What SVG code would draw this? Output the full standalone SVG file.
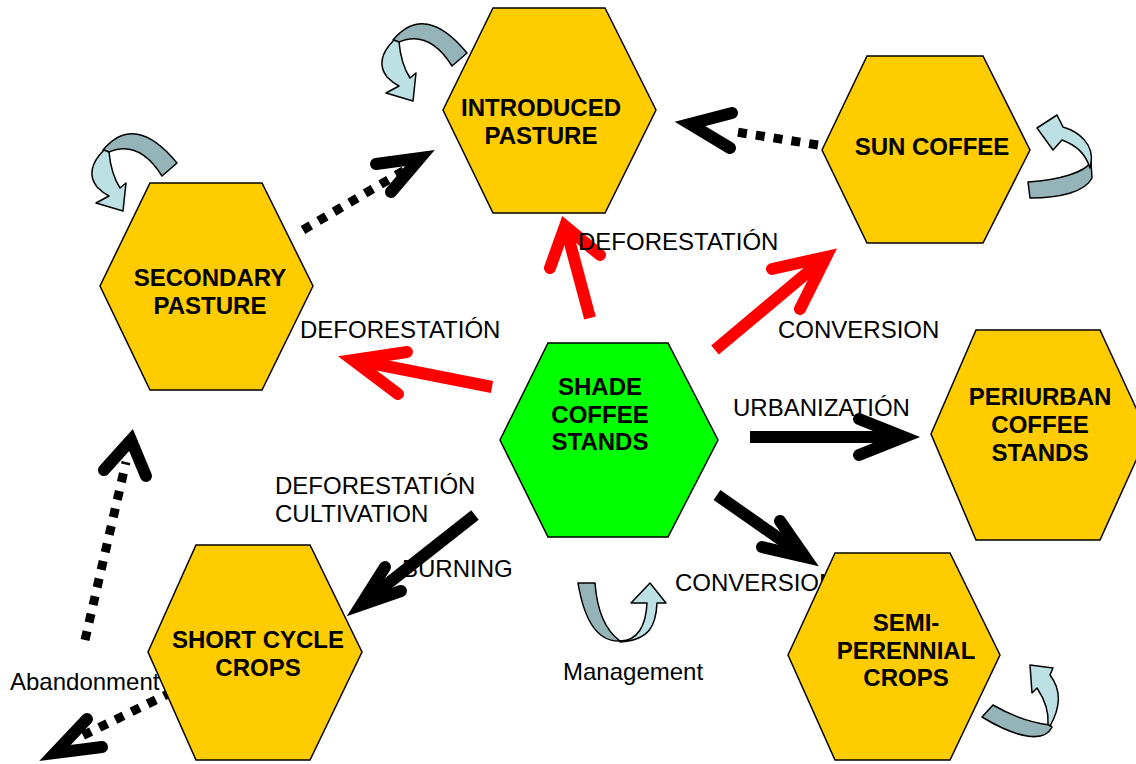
<svg xmlns="http://www.w3.org/2000/svg" width="1136" height="764" viewBox="0 0 1136 764">
<style>
.hex{fill:#FFCC00;stroke:#000;stroke-width:1.5}
.green{fill:#00FF00}
.nt{font-family:"Liberation Sans",Arial,sans-serif;font-weight:bold;font-size:24px;text-anchor:middle;fill:#000}
.lb{font-family:"Liberation Sans",Arial,sans-serif;font-size:24px;fill:#000}
.shaft{fill:none;stroke-width:12}
.head{fill:none;stroke-width:12;stroke-linecap:round;stroke-linejoin:miter;stroke-miterlimit:10}
.red{stroke:#FF0000}
.blk{stroke:#000}
.dot{fill:none;stroke:#000;stroke-width:9;stroke-dasharray:9 9}
.dk{fill:#94B4B8;stroke:#000;stroke-width:1.5;stroke-linejoin:round}
.lt{fill:#BCE0E3;stroke:#000;stroke-width:1.5;stroke-linejoin:round}
</style>
<rect width="1136" height="764" fill="#fff"/>
<g id="loops">
<g id="loop-introduced">
<path class="dk" d="M467,53 Q425,2 393,40 L397,43 Q428,28 452,66 Z"/>
<path class="lt" d="M394,40 Q374,60 387,77 Q393,83 399,86 L386,93 L413,101 L416,73 L410,78 Q401,64 399,42 Z"/>
</g>
<g id="loop-secondary" transform="translate(-290,110)">
<path class="dk" d="M467,53 Q425,2 393,40 L397,43 Q428,28 452,66 Z"/>
<path class="lt" d="M394,40 Q374,60 387,77 Q393,83 399,86 L386,93 L413,101 L416,73 L410,78 Q401,64 399,42 Z"/>
</g>
<g id="loop-sun">
<path class="dk" d="M1028,182 C1060,180 1085,172 1091,162 L1092,178 C1085,192 1060,198 1030,198 Z"/>
<path class="lt" d="M1091,163 C1094,145 1080,132 1063,127 L1057,115 L1037,128 L1053,150 L1062,140 C1075,145 1085,152 1090,168 Z"/>
</g>
<g id="loop-semi">
<path class="dk" d="M993,705 C1005,712 1025,722 1050,725 L1052,727 C1045,742 1020,740 982,717 Z"/>
<path class="lt" d="M1050,726 C1062,705 1060,688 1050,675 L1053,668 L1030,665 L1032,693 L1037,688 C1045,700 1049,712 1048,724 Z"/>
</g>
<g id="loop-management">
<path class="dk" d="M578,583 L595,583 C597,610 605,630 620,641 C600,642 585,625 578,583 Z"/>
<path class="lt" d="M620,641 C638,641 646,625 647,603 L631,603 L650,583 L666,603 L657,603 C656,625 650,640 620,642 Z"/>
</g>
</g>
<g id="connectors">
<line class="shaft red" x1="590" y1="318" x2="567" y2="232"/>
<polyline class="head red" points="550,268 565,226 600,255"/>
<line class="shaft red" x1="715" y1="350" x2="820" y2="262"/>
<polyline class="head red" points="772,269 826,257 800,309"/>
<line class="shaft red" x1="492" y1="387" x2="360" y2="361"/>
<polyline class="head red" points="407,352 353,360 398,394"/>
<line class="shaft blk" x1="750" y1="437" x2="897" y2="437"/>
<polyline class="head blk" points="859,419 904,437 859,455"/>
<line class="shaft blk" x1="717" y1="495" x2="800" y2="553"/>
<polyline class="head blk" points="780,521 805,557 762,547"/>
<line class="shaft blk" x1="475" y1="515" x2="367" y2="600"/>
<polyline class="head blk" points="385,567 361,605 401,591"/>
<line class="dot" x1="303" y1="230" x2="405" y2="170"/>
<polyline class="head blk" points="376,164 420,158 391,192"/>
<line class="dot" x1="818" y1="145" x2="730" y2="131"/>
<polyline class="head blk" points="732,113 690,124 730,148"/>
<line class="dot" x1="85" y1="640" x2="126" y2="462"/>
<polyline class="head blk" points="104,470 131,440 146,476"/>
<line class="dot" x1="172" y1="692" x2="82" y2="736"/>
<polyline class="head blk" points="87,719 55,753 102,747"/>
</g>
<g id="labels">
<text class="lb" x="578" y="250">DEFORESTATIÓN</text>
<text class="lb" x="300" y="338">DEFORESTATIÓN</text>
<text class="lb" x="778" y="338">CONVERSION</text>
<text class="lb" x="733" y="416">URBANIZATIÓN</text>
<text class="lb" x="275" y="494">DEFORESTATIÓN</text>
<text class="lb" x="275" y="522">CULTIVATION</text>
<text class="lb" x="402" y="577">BURNING</text>
<text class="lb" x="675" y="591">CONVERSION</text>
<text class="lb" x="563" y="680">Management</text>
<text class="lb" x="10" y="690">Abandonment</text>
</g>
<g id="introduced-pasture">
<polygon class="hex" points="443,110 493,8 605,8 656,110 605,213 493,213"/>
<text class="nt" x="541" y="116">INTRODUCED</text>
<text class="nt" x="541" y="144">PASTURE</text>
</g>
<g id="sun-coffee">
<polygon class="hex" points="822,150 867,56 983,56 1030,150 983,243 867,243"/>
<text class="nt" x="932" y="155">SUN COFFEE</text>
</g>
<g id="secondary-pasture">
<polygon class="hex" points="100,286 150,183 262,183 313,286 262,390 150,390"/>
<text class="nt" x="210" y="286">SECONDARY</text>
<text class="nt" x="210" y="314">PASTURE</text>
</g>
<g id="shade-coffee-stands">
<polygon class="hex green" points="500,440 548,343 668,343 718,440 668,537 548,537"/>
<text class="nt" x="600" y="395">SHADE</text>
<text class="nt" x="600" y="423">COFFEE</text>
<text class="nt" x="600" y="450">STANDS</text>
</g>
<g id="periurban-coffee-stands">
<polygon class="hex" points="931,434 976,330 1100,330 1148,434 1100,540 976,540"/>
<text class="nt" x="1040" y="405">PERIURBAN</text>
<text class="nt" x="1040" y="433">COFFEE</text>
<text class="nt" x="1040" y="461">STANDS</text>
</g>
<g id="short-cycle-crops">
<polygon class="hex" points="148,652 196,545 310,545 362,652 310,760 196,760"/>
<text class="nt" x="258" y="648">SHORT CYCLE</text>
<text class="nt" x="258" y="676">CROPS</text>
</g>
<g id="semi-perennial-crops">
<polygon class="hex" points="788,655 835,553 950,553 1000,655 950,760 835,760"/>
<text class="nt" x="906" y="631">SEMI-</text>
<text class="nt" x="906" y="659">PERENNIAL</text>
<text class="nt" x="906" y="686">CROPS</text>
</g>
</svg>
